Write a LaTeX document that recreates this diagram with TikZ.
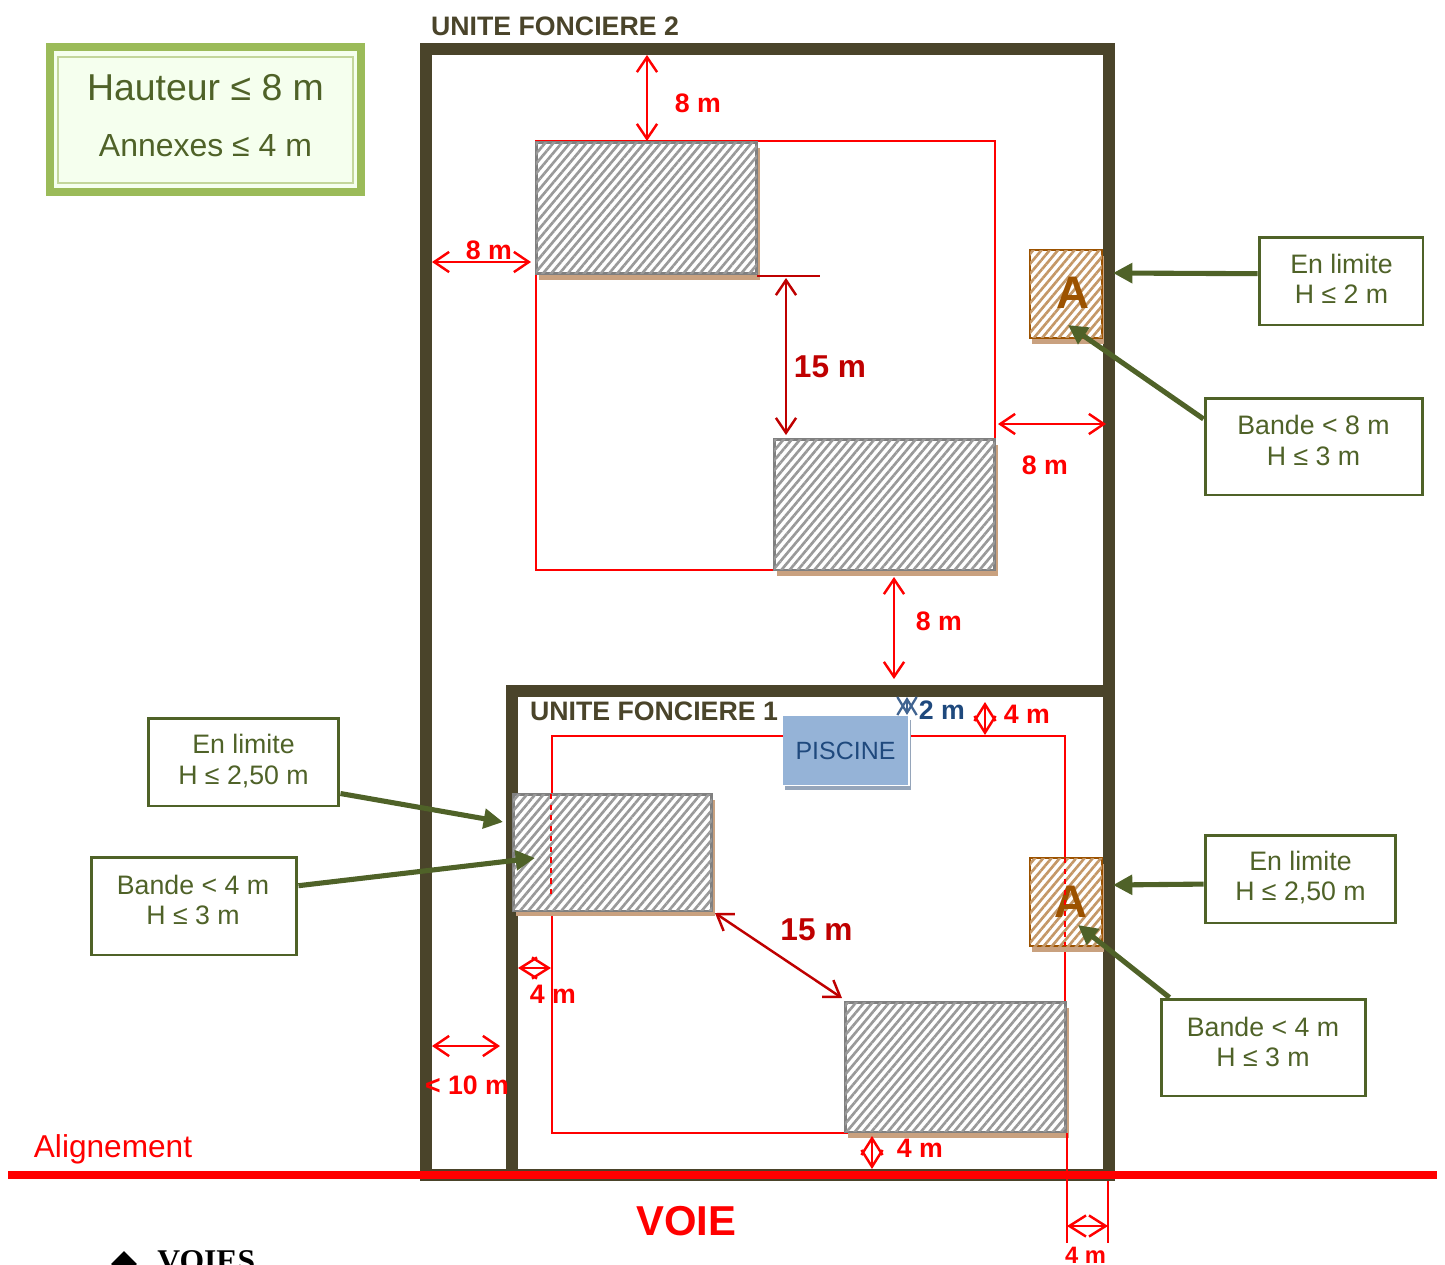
\documentclass[tikz,border=0pt]{standalone}
\usepackage{fontspec}
\setmainfont{Liberation Sans}
\newfontfamily\serifbold{Liberation Serif}
\usetikzlibrary{arrows.meta,patterns.meta,shapes.geometric}
\definecolor{murcolor}{HTML}{4A442A}
\definecolor{vertcolor}{HTML}{4F6228}
\definecolor{bleucolor}{HTML}{1F497D}
\definecolor{brique}{HTML}{9C5200}
\definecolor{ombrecolor}{HTML}{C9A17F}
\definecolor{cadrecolor}{HTML}{9BBB59}
\definecolor{cadreclair}{HTML}{C3D69B}
\definecolor{cadrefond}{HTML}{F5FFEE}
\definecolor{piscinebord}{HTML}{95B3D7}
\definecolor{piscinefond}{HTML}{DCE6F1}
\definecolor{piscineombre}{HTML}{95A5BA}
\tikzset{
    mur/.style={draw=murcolor, line width=6.4pt, miter limit=10},
    limite/.style={draw=red, line width=1.1pt},
    cote/.style={red, line width=1.4pt, {Straight Barb[length=8.5pt,width=11.5pt]}-{Straight Barb[length=8.5pt,width=11.5pt]}},
    cotesombre/.style={cote, draw=red!75!black},
    cotecourte/.style={red, line width=1.4pt, {Straight Barb[length=9.5pt,width=12pt]}-{Straight Barb[length=9.5pt,width=12pt]}},
    cotebleue/.style={bleucolor!85!white, line width=1.3pt, {Straight Barb[length=9pt,width=11pt]}-{Straight Barb[length=9pt,width=11pt]}},
    fleche/.style={vertcolor, line width=2.9pt, -{Triangle[length=11pt,width=11pt]}},
    batiment/.style={draw=gray, line width=1.7pt, fill=white, inner sep=0pt,
        postaction={pattern={Lines[angle=50,distance=3.6pt,line width=1.5pt]}, pattern color=gray!80}},
    annexe/.style={draw=brique, line width=1.5pt, fill=white, inner sep=0pt,
        minimum width=1.44cm, minimum height=1.76cm,
        postaction={pattern={Lines[angle=50,distance=3.6pt,line width=1.5pt]}, pattern color=brique!60}},
    lettre/.style={text=brique, inner sep=0pt, font=\fontsize{26}{26}\selectfont\bfseries},
    ombre/.style={fill=ombrecolor, inner sep=0pt},
    regle/.style={draw=vertcolor, line width=1.7pt, inner sep=0pt},
    regletexte/.style={text=vertcolor, align=center, inner sep=0pt, font=\fontsize{15.2}{17.2}\selectfont},
    rouge/.style={text=red, font=\fontsize{15.2}{15.2}\selectfont\bfseries, inner sep=0pt},
    rougesombre/.style={text=red!75!black, font=\fontsize{18}{18}\selectfont\bfseries, inner sep=0pt},
    titre/.style={text=murcolor, font=\fontsize{15.2}{15.2}\selectfont\bfseries, inner sep=0pt},
}
\begin{document}
\begin{tikzpicture}[x=0.02cm, y=-0.02cm]
    \useasboundingbox (0,0) rectangle (1445,1265);

    % terrains
    \node[mur, minimum width=13.66cm, minimum height=22.52cm, inner sep=0pt] (unite2) at (767.5,612) {};
    \node[mur, minimum width=11.94cm, minimum height=9.68cm, inner sep=0pt] (unite1) at (810.5,933) {};
    \node[titre] (titre2) at (555,26) {UNITE FONCIERE 2};
    \node[titre] (titre1) at (654,711) {UNITE FONCIERE 1};

    \coordinate (alignA) at (8,1175);
    \coordinate (alignB) at (1437,1175);
    \draw[red, line width=4.5pt] (alignA) -- (alignB);
    \node[text=red, font=\fontsize{18}{18}\selectfont, inner sep=0pt] (aligntxt) at (113,1149) {Alignement};
    \node[text=red, font=\fontsize{23.8}{23.8}\selectfont\bfseries, inner sep=0pt] (voie) at (686.5,1221) {VOIE};

    % hauteurs
    \node[draw=cadrecolor, line width=4.5pt, fill=cadrefond, minimum width=6.22cm, minimum height=2.9cm, inner sep=0pt] (cadre) at (205.5,119.5) {};
    \node[draw=cadreclair, line width=1.1pt, minimum width=5.9cm, minimum height=2.52cm, inner sep=0pt] (cadreint) at (205.5,120) {};
    \node[text=vertcolor, font=\fontsize{21.3}{21.3}\selectfont, inner sep=0pt] (hauteur) at (205.5,88) {Hauteur ≤ 8 m};
    \node[text=vertcolor, font=\fontsize{18.2}{18.2}\selectfont, inner sep=0pt] (annexes) at (205.5,146) {Annexes ≤ 4 m};

    % reculs
    \coordinate (rectA) at (536,141);
    \coordinate (rectB) at (995,570);
    \coordinate (rectC) at (552,736);
    \coordinate (rectD) at (1065,1133);
    \draw[limite] (rectA) rectangle (rectB);
    \draw[limite] (rectC) rectangle (rectD);

    % batiments
    \node[ombre, minimum width=4.42cm, minimum height=2.64cm] (ombre1) at (649.5,214) {};
    \node[batiment, minimum width=4.42cm, minimum height=2.64cm] (bat1) at (646.5,208) {};
    \node[ombre, minimum width=4.42cm, minimum height=2.62cm] (ombre2) at (887.5,510.5) {};
    \node[batiment, minimum width=4.42cm, minimum height=2.62cm] (bat2) at (884.5,504.5) {};
    \node[ombre, minimum width=3.98cm, minimum height=2.34cm] (ombre3) at (615.5,858) {};
    \node[batiment, minimum width=3.98cm, minimum height=2.34cm] (bat3) at (612.5,852.5) {};
    \node[ombre, minimum width=4.42cm, minimum height=2.6cm] (ombre4) at (958.5,1073) {};
    \node[batiment, minimum width=4.42cm, minimum height=2.6cm] (bat4) at (955.5,1067) {};

    \node[ombre, minimum width=1.44cm, minimum height=1.76cm] (ombreA1) at (1068,300) {};
    \node[annexe] (annexe1) at (1066,294) {};
    \node[lettre] (lettre1) at (1073,293) {A};
    \node[ombre, minimum width=1.44cm, minimum height=1.76cm] (ombreA2) at (1068,908) {};
    \node[annexe] (annexe2) at (1066,902) {};
    \node[lettre] (lettre2) at (1071,902) {A};

    % reculs sous les batiments
    \coordinate (tiretA) at (551,794);
    \coordinate (tiretB) at (551,898);
    \coordinate (tiretC) at (1065,858);
    \coordinate (tiretD) at (1065,946);
    \draw[limite, dashed] (tiretA) -- (tiretB);
    \draw[limite, dashed] (tiretC) -- (tiretD);

    % piscine
    \node[fill=piscineombre, minimum width=2.52cm, minimum height=1.4cm, inner sep=0pt] (ombrepiscine) at (848,755) {};
    \node[draw=white, line width=.6pt, minimum width=2.5cm, minimum height=1.38cm, inner sep=0pt] (filetpiscine) at (846.5,751) {};
    \node[draw=piscinebord, line width=3.2pt, left color=piscinebord, middle color=piscinefond, right color=piscinebord, shading angle=65,
        minimum width=2.38cm, minimum height=1.26cm, inner sep=0pt, text=bleucolor, font=\fontsize{14.2}{14.2}\selectfont] (piscine) at (845.5,750.5) {PISCINE};

    % cotes
    \coordinate (c1a) at (647,55);
    \coordinate (c1b) at (647,141);
    \draw[cote] (c1a) -- (c1b);
    \node[rouge] (t1) at (698,103) {8 m};
    \coordinate (c2a) at (432,262);
    \coordinate (c2b) at (531,262);
    \draw[cote] (c2a) -- (c2b);
    \node[rouge] (t2) at (489,250) {8 m};
    \coordinate (c3a) at (786,278);
    \coordinate (c3b) at (786,435);
    \coordinate (c3c) at (757,276);
    \coordinate (c3d) at (820,276);
    \draw[red!75!black, line width=1.1pt] (c3c) -- (c3d);
    \draw[cotesombre] (c3a) -- (c3b);
    \node[rougesombre] (t3) at (830,367) {15 m};
    \coordinate (c4a) at (998,424);
    \coordinate (c4b) at (1106,424);
    \draw[cote] (c4a) -- (c4b);
    \node[rouge] (t4) at (1045,465) {8 m};
    \coordinate (c5a) at (894,577);
    \coordinate (c5b) at (894,679);
    \draw[cote] (c5a) -- (c5b);
    \node[rouge] (t5) at (939,621) {8 m};
    \coordinate (c6a) at (907,697);
    \coordinate (c6b) at (907,715);
    \draw[cotebleue] (c6a) -- (c6b);
    \node[rouge, text=bleucolor] (t6) at (942,710) {2 m};
    \coordinate (c7a) at (985,702);
    \coordinate (c7b) at (985,735);
    \draw[cotecourte] (c7a) -- (c7b);
    \node[rouge] (t7) at (1027,714) {4 m};
    \coordinate (c8a) at (518,968);
    \coordinate (c8b) at (551,968);
    \draw[cotecourte] (c8a) -- (c8b);
    \node[rouge] (t8) at (553,994) {4 m};
    \coordinate (c9a) at (432,1046);
    \coordinate (c9b) at (500,1046);
    \draw[cote] (c9a) -- (c9b);
    \node[rouge] (t9) at (467,1085) {< 10 m};
    \coordinate (c10a) at (715,913);
    \coordinate (c10b) at (842,998);
    \draw[cotesombre] (c10a) -- (c10b);
    \node[rougesombre] (t10) at (816.5,930) {15 m};
    \coordinate (c11a) at (872,1136);
    \coordinate (c11b) at (872,1169);
    \draw[cotecourte] (c11a) -- (c11b);
    \node[rouge] (t11) at (920,1148) {4 m};
    \coordinate (c12a) at (1067,1226);
    \coordinate (c12b) at (1108,1226);
    \draw[cotecourte] (c12a) -- (c12b);
    \coordinate (c12c) at (1067,1133);
    \coordinate (c12d) at (1067,1243);
    \coordinate (c12e) at (1108,1181);
    \coordinate (c12f) at (1108,1243);
    \draw[limite] (c12c) -- (c12d);
    \draw[limite] (c12e) -- (c12f);
    \node[rouge, font=\fontsize{13.5}{13.5}\selectfont\bfseries] (t12) at (1085.5,1255.5) {4 m};

    % regles
    \node[regle, minimum width=3.28cm, minimum height=1.76cm] (regle1) at (1341,281) {};
    \node[regle, minimum width=4.36cm, minimum height=1.94cm] (regle2) at (1314,446.5) {};
    \node[regle, minimum width=3.82cm, minimum height=1.76cm] (regle3) at (243.5,762) {};
    \node[regle, minimum width=4.12cm, minimum height=1.96cm] (regle4) at (194,906) {};
    \node[regle, minimum width=3.82cm, minimum height=1.76cm] (regle5) at (1300.5,879) {};
    \node[regle, minimum width=4.1cm, minimum height=1.94cm] (regle6) at (1263.5,1047.5) {};
    \node[regletexte] (texte1) at (1341.5,279) {En limite\\H ≤ 2 m};
    \node[regletexte] (texte2) at (1313.5,440.5) {Bande < 8 m\\H ≤ 3 m};
    \node[regletexte] (texte3) at (243.5,761) {En limite\\H ≤ 2,50 m};
    \node[regletexte] (texte4) at (193,900) {Bande < 4 m\\H ≤ 3 m};
    \node[regletexte] (texte5) at (1300.5,877.5) {En limite\\H ≤ 2,50 m};
    \node[regletexte] (texte6) at (1263,1042) {Bande < 4 m\\H ≤ 3 m};

    \coordinate (f1) at (1113,273);
    \coordinate (f2) at (1068,325);
    \coordinate (f3) at (503,822);
    \coordinate (f4) at (535,858);
    \coordinate (f5) at (1113,885);
    \coordinate (f6) at (1078,925);
    \draw[fleche] (regle1.175.8) -- (f1);
    \draw[fleche] (regle2.166.3) -- (f2);
    \draw[fleche] (regle3.-18) -- (f3);
    \draw[fleche] (regle4.11.5) -- (f4);
    \draw[fleche] (regle5.183.6) -- (f5);
    \draw[fleche] (regle6.152.1) -- (f6);

    % bas de page
    \node[diamond, fill=black, minimum size=0.52cm, inner sep=0pt] (puce) at (124,1264) {};
    \node[anchor=base west, inner sep=0pt, font=\fontsize{18}{18}\selectfont\serifbold\bfseries] (voies) at (157,1271) {VOIES};
\end{tikzpicture}
\end{document}
